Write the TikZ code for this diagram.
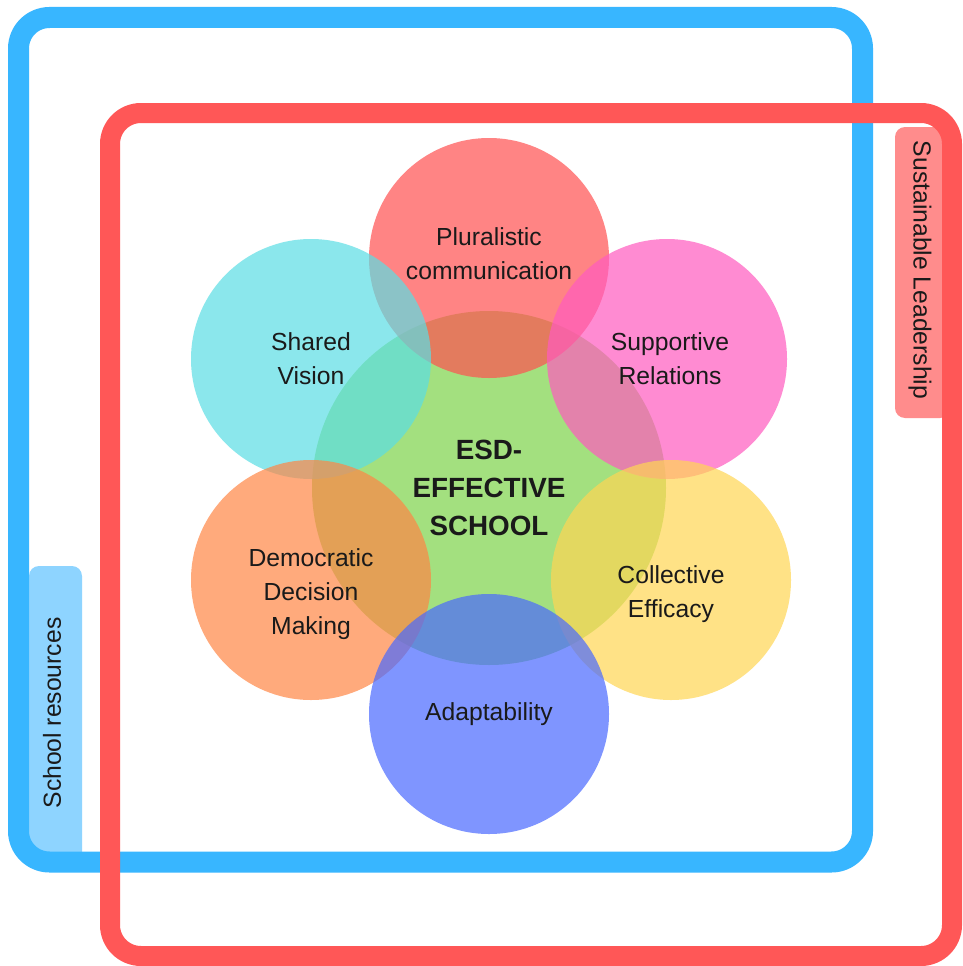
\documentclass[tikz,border=0pt]{standalone}
\usepackage{fontspec}
\setmainfont{Liberation Sans}
\begin{document}
\definecolor{frameblue}{RGB}{56,182,255}
\definecolor{framered}{RGB}{255,87,87}
\definecolor{tagred}{RGB}{255,140,140}
\definecolor{tagblue}{RGB}{142,212,255}
\definecolor{cgreen}{RGB}{124,211,74}
\definecolor{cred}{RGB}{255,81,81}
\definecolor{ccyan}{RGB}{91,222,228}
\definecolor{cpink}{RGB}{255,91,191}
\definecolor{corange}{RGB}{255,134,69}
\definecolor{cyellow}{RGB}{255,214,84}
\definecolor{cblue}{RGB}{74,105,255}
\definecolor{ink}{RGB}{26,26,26}
\begin{tikzpicture}[x=1pt,y=-1pt,
  bubble/.style={circle,minimum size=240pt,inner sep=0pt,fill opacity=0.7,draw=none},
  core/.style={circle,minimum size=354pt,inner sep=0pt,fill opacity=0.7,draw=none},
  caption/.style={text=ink,align=center,font=\fontsize{24.7}{34}\selectfont},
  corecaption/.style={text=ink,align=center,font=\bfseries\fontsize{27.8}{38}\selectfont},
  tagtext/.style={text=ink,font=\fontsize{24.7}{30}\selectfont},
  frame/.style={line width=#1,rounded corners=31pt}]
\useasboundingbox (0,0) rectangle (962,966);
\fill[white] (0,0) rectangle (962,966);

% side tags
\fill[tagblue,rounded corners=10pt] (29,566) rectangle (82,862);
\node[tagtext,rotate=90] (res) at (52,713) {School resources};
\fill[tagred,rounded corners=10pt] (895,127) rectangle (950,418);
\node[tagtext,rotate=-90] (lead) at (920,270) {Sustainable Leadership};

% the two frames
\draw[frameblue,frame=21pt] (18.5,17.5) rectangle (862.5,862);
\draw[framered,frame=20pt] (110,113) rectangle (952,956);

% central circle and the six surrounding circles
\node[core,fill=cgreen] (esd) at (489,488) {};
\node[bubble,fill=cred] (plur) at (489,258) {};
\node[bubble,fill=ccyan] (vis) at (311,359) {};
\node[bubble,fill=cpink] (rel) at (667,359) {};
\node[bubble,fill=corange] (dem) at (311,580) {};
\node[bubble,fill=cyellow] (eff) at (671,580) {};
\node[bubble,fill=cblue] (ada) at (489,714) {};

% captions
\node[corecaption] (esdt) at (489,488) {ESD-\\EFFECTIVE\\SCHOOL};
\node[caption] (plurt) at (489,254) {Pluralistic\\communication};
\node[caption] (vist) at (311,359) {Shared\\Vision};
\node[caption] (relt) at (670,359) {Supportive\\Relations};
\node[caption] (demt) at (311,594) {Democratic\\Decision\\Making};
\node[caption] (efft) at (671,594) {Collective\\Efficacy};
\node[caption] (adat) at (489,714) {Adaptability};
\end{tikzpicture}
\end{document}
